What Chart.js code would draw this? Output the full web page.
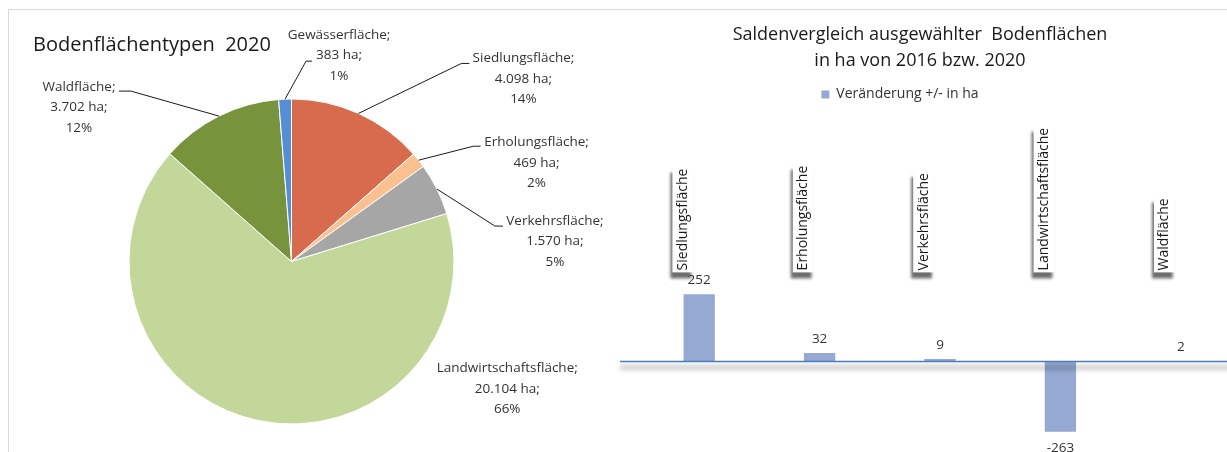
<!DOCTYPE html>
<html lang="de">
<head>
<meta charset="utf-8">
<script src="https://cdn.jsdelivr.net/npm/chart.js@4.4.1/dist/chart.umd.min.js"></script>
<style>
  html, body { margin: 0; padding: 0; background: #fff; }
  body { width: 1227px; height: 452px; overflow: hidden; position: relative; }
  #frame { position: absolute; left: 8px; top: 9px; width: 1240px; height: 460px; border-top: 1px solid #d9d9d9; border-left: 1px solid #d9d9d9; }
  #pieBox { position: absolute; left: 0; top: 0; width: 610px; height: 452px; }
  #barBox { position: absolute; left: 559px; top: 0; width: 682px; height: 452px; }
</style>
</head>
<body>
<div id="frame"></div>
<div id="pieBox"><canvas id="pieChart"></canvas></div>
<div id="barBox"><canvas id="barChart"></canvas></div>
<script>
// Bodenflächentypen 2020, in ha
var pieLabels = ['Siedlungsfläche', 'Erholungsfläche', 'Verkehrsfläche', 'Landwirtschaftsfläche', 'Waldfläche', 'Gewässerfläche'];
var pieValues = [4098, 469, 1570, 20104, 3702, 383];
var pieColors = ['#d86b4e', '#fac090', '#a6a6a6', '#c4d79b', '#77933c', '#558ed5'];

// Saldenvergleich 2016 bzw. 2020, in ha
var barLabels = ['Siedlungsfläche', 'Erholungsfläche', 'Verkehrsfläche', 'Landwirtschaftsfläche', 'Waldfläche'];
var barValues = [252, 32, 9, -263, 2];
var barSeriesName = 'Veränderung +/- in ha';
var barTitle = ['Saldenvergleich ausgewählter  Bodenflächen', 'in ha von 2016 bzw. 2020'];

// label placement around the pie (offset from the slice edge, leader elbow)
var pieLabelPos = [
    { dx: 165, dy: -55, ex: -62, ey: 5, h: 8 },
    { dx: 118, dy: -18, ex: -63, ey: 4, h: 7 },
    { dx: 118, dy: 32, ex: -60, ey: 5, h: 8 },
    { dx: 250, dy: -52 },
    { dx: -140, dy: -29, ex: 52, ey: 4, h: -12 },
    { dx: 54, dy: -64, ex: -33, ey: 26, h: 6 }
];

function fmtHa(v) {
    return String(v).replace(/\B(?=(\d{3})+(?!\d))/g, '.');
}

var pieLabelPlugin = {
    id: 'pieLabels',
    afterDatasetsDraw: function(chart) {
        var ctx = chart.ctx;
        var meta = chart.getDatasetMeta(0);
        var total = pieValues.reduce(function(a, b) { return a + b; }, 0);
        ctx.save();
        ctx.font = '13.5px "Open Sans"';
        ctx.fillStyle = '#333333';
        ctx.strokeStyle = '#1a1a1a';
        ctx.lineWidth = 1;
        ctx.textAlign = 'center';
        ctx.textBaseline = 'middle';
        meta.data.forEach(function(arc, i) {
            var p = arc.getProps(['x', 'y', 'startAngle', 'endAngle', 'outerRadius'], true);
            var mid = (p.startAngle + p.endAngle) / 2;
            var ax = p.x + Math.cos(mid) * p.outerRadius;
            var ay = p.y + Math.sin(mid) * p.outerRadius;
            var pos = pieLabelPos[i];
            var lx = ax + pos.dx, ly = ay + pos.dy;
            if (pos.h) {
                var ex = lx + pos.ex, ey = ly + pos.ey;
                ctx.beginPath();
                ctx.moveTo(ax, ay);
                ctx.lineTo(ex, ey);
                ctx.lineTo(ex + pos.h, ey);
                ctx.stroke();
            }
            var lines = [pieLabels[i] + ';', fmtHa(pieValues[i]) + ' ha;', Math.round(pieValues[i] / total * 100) + '%'];
            lines.forEach(function(t, k) {
                ctx.fillText(t, lx, ly + k * 20.5);
            });
        });
        ctx.restore();
    }
};

var pieChart = new Chart(document.getElementById('pieChart'), {
    type: 'pie',
    data: {
        labels: pieLabels,
        datasets: [{
            data: pieValues,
            backgroundColor: pieColors,
            borderColor: '#ffffff',
            borderWidth: 1
        }]
    },
    options: {
        responsive: true,
        maintainAspectRatio: false,
        animation: false,
        layout: { padding: { left: 33, right: 60, top: 0, bottom: 27.5 } },
        plugins: {
            legend: { display: false },
            tooltip: { enabled: false },
            title: {
                display: true,
                text: 'Bodenflächentypen  2020',
                align: 'start',
                color: '#1a1a1a',
                font: { family: 'Open Sans', size: 20, weight: 'normal' },
                padding: { top: 33, bottom: 41.5 }
            }
        }
    },
    plugins: [pieLabelPlugin]
});

var barDecorPlugin = {
    id: 'barDecor',
    beforeDraw: function(chart) {
        // shadow behind the category label boxes
        var xs = chart.scales.x;
        if (!xs.getLabelItems) return;
        var ctx = chart.ctx;
        ctx.save();
        ctx.fillStyle = 'rgba(60,60,60,0.75)';
        ctx.filter = 'blur(1.5px)';
        xs.getLabelItems().forEach(function(item) {
            var o = item.options;
            var b = o.backdrop;
            if (!b) return;
            ctx.save();
            ctx.translate(o.translation[0], o.translation[1]);
            ctx.rotate(o.rotation);
            ctx.fillRect(b.left - 6, b.top - 2, b.width, b.height);
            ctx.restore();
        });
        ctx.restore();
    },
    afterDatasetsDraw: function(chart) {
        var ctx = chart.ctx;
        var y0 = chart.scales.y.getPixelForValue(0);
        ctx.save();
        // zero line with its soft shadow
        ctx.filter = 'blur(2px)';
        ctx.fillStyle = 'rgba(0,0,0,0.16)';
        ctx.fillRect(61, y0 + 3, chart.width, 6);
        ctx.filter = 'none';
        ctx.strokeStyle = '#4a7ebb';
        ctx.lineWidth = 1.5;
        ctx.beginPath();
        ctx.moveTo(61, y0);
        ctx.lineTo(chart.width, y0);
        ctx.stroke();
        // value labels
        ctx.font = '13.5px "Open Sans"';
        ctx.fillStyle = '#333333';
        ctx.textAlign = 'center';
        ctx.textBaseline = 'middle';
        chart.getDatasetMeta(0).data.forEach(function(bar, i) {
            var v = barValues[i];
            ctx.fillText(String(v), bar.x, v >= 0 ? bar.y - 14 : bar.y + 16);
        });
        // title
        ctx.font = '18px "Open Sans"';
        ctx.fillStyle = '#1a1a1a';
        barTitle.forEach(function(t, k) {
            ctx.fillText(t, 361, 35 + k * 26);
        });
        ctx.restore();
    }
};

var barChart = new Chart(document.getElementById('barChart'), {
    type: 'bar',
    data: {
        labels: barLabels,
        datasets: [{
            label: barSeriesName,
            data: barValues,
            backgroundColor: '#95a9d2',
            borderWidth: 0,
            barPercentage: 0.26,
            categoryPercentage: 1
        }]
    },
    options: {
        responsive: true,
        maintainAspectRatio: false,
        animation: false,
        layout: { padding: { top: 77.5, bottom: 10.4, left: 0, right: 0 } },
        scales: {
            x: {
                position: 'top',
                grid: { display: false, drawTicks: false },
                border: { display: false },
                ticks: {
                    autoSkip: false,
                    minRotation: 90,
                    maxRotation: 90,
                    labelOffset: -8,
                    padding: 11,
                    color: '#1a1a1a',
                    font: { family: 'Open Sans', size: 14 },
                    showLabelBackdrop: true,
                    backdropColor: '#ffffff',
                    backdropPadding: 2
                },
                afterFit: function(scale) { scale.height = 169.9; }
            },
            y: {
                min: -300,
                max: 300,
                grid: { display: false, drawTicks: false },
                border: { display: false },
                ticks: { display: false },
                afterFit: function(scale) { scale.width = 80; }
            }
        },
        plugins: {
            legend: {
                position: 'top',
                labels: {
                    boxWidth: 8,
                    boxHeight: 8,
                    padding: 10,
                    color: '#333333',
                    font: { family: 'Open Sans', size: 14 }
                }
            },
            tooltip: { enabled: false }
        }
    },
    plugins: [barDecorPlugin]
});
</script>
</body>
</html>
